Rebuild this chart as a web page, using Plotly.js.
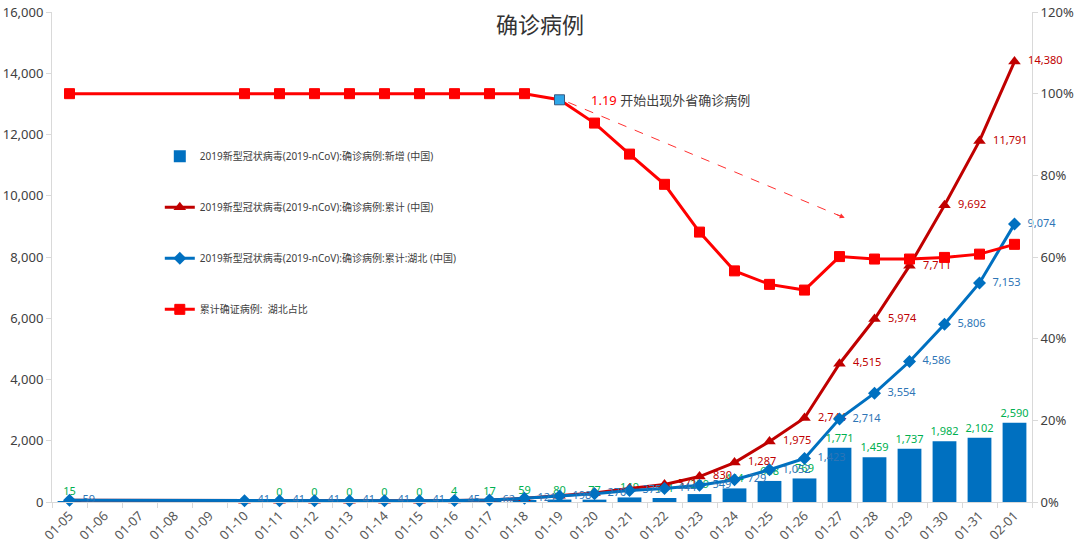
<!DOCTYPE html>
<html><head><meta charset="utf-8">
<script src="https://cdn.plot.ly/plotly-3.0.1.min.js"></script>
<style>html,body{margin:0;padding:0;background:#fff}#chart{width:1080px;height:553px}</style>
</head><body><div id="chart"></div>
<script>
const dates = ['01-05','01-06','01-07','01-08','01-09','01-10','01-11','01-12','01-13','01-14','01-15','01-16','01-17','01-18','01-19','01-20','01-21','01-22','01-23','01-24','01-25','01-26','01-27','01-28','01-29','01-30','01-31','02-01'];
const newCases = [15,null,null,null,null,null,0,0,0,0,0,4,17,59,80,77,149,131,259,444,688,769,1771,1459,1737,1982,2102,2590];
const cumChina = [59,null,null,null,null,41,41,41,41,41,41,45,62,121,201,291,440,571,830,1287,1975,2744,4515,5974,7711,9692,11791,14380];
const cumHubei = [59,null,null,null,null,41,41,41,41,41,41,45,62,121,198,270,375,444,549,729,1052,1423,2714,3554,4586,5806,7153,9074];
const hubeiShare = [1.0,null,null,null,null,1.0,1.0,1.0,1.0,1.0,1.0,1.0,1.0,1.0,0.985,0.928,0.852,0.778,0.661,0.566,0.533,0.519,0.601,0.595,0.595,0.599,0.607,0.631];
const names = ['2019新型冠状病毒(2019-nCoV):确诊病例:新增 (中国)','2019新型冠状病毒(2019-nCoV):确诊病例:累计 (中国)','2019新型冠状病毒(2019-nCoV):确诊病例:累计:湖北 (中国)','累计确证病例:  湖北占比'];
const titleText = '确诊病例';
const noteDate = '1.19';
const noteText = '开始出现外省确诊病例';

const fmt = v => v === null ? '' : v.toLocaleString('en-US');
const F = 'Noto Sans, Noto Sans CJK SC, sans-serif';

const traces = [
  {type:'bar', name:names[0], x:dates, y:newCases, marker:{color:'#0070C0'}, width:0.68,
   text:newCases.map(fmt), textposition:'outside', cliponaxis:false, constraintext:'none',
   textfont:{color:'#00B050', size:11, family:F}, outsidetextfont:{color:'#00B050', size:11, family:F}, legendgroup:'a'},
  {type:'scatter', mode:'lines+markers+text', name:names[1], x:dates, y:cumChina, connectgaps:true,
   line:{color:'#C00000', width:3}, marker:{symbol:'triangle-up', size:11, color:'#C00000'},
   text:cumChina.map((v,i)=> i>=17 ? '  '+fmt(v) : ''), textposition:'middle right', cliponaxis:false,
   textfont:{color:'#C00000', size:11, family:F}, legendgroup:'b'},
  {type:'scatter', mode:'lines+markers+text', name:names[2], x:dates, y:cumHubei, connectgaps:true,
   line:{color:'#0070C0', width:3}, marker:{symbol:'diamond', size:10, color:'#0070C0'},
   text:cumHubei.map(v=> v===null ? '' : '  '+fmt(v)), textposition:'middle right', cliponaxis:false,
   textfont:{color:'#2E75B6', size:11, family:F}, legendgroup:'c'},
  {type:'scatter', mode:'lines+markers', name:names[3], x:dates, y:hubeiShare, yaxis:'y2', connectgaps:true,
   line:{color:'#FF0000', width:3},
   marker:{symbol:'square', size:10, color:dates.map(d=> d==='01-19' ? '#2EA6E8' : '#FF0000'),
           line:{color:dates.map(d=> d==='01-19' ? '#3A5A80' : '#FF0000'), width:1}},
   cliponaxis:false, legendgroup:'d'}
];

const layout = {
  width:1080, height:553,
  margin:{l:52, r:48, t:12, b:51},
  paper_bgcolor:'#fff', plot_bgcolor:'#fff',
  font:{family:F, color:'#404040'},
  title:{text:titleText, x:0.5, xanchor:'center', y:0.955, yanchor:'middle', font:{size:22, color:'#333', family:F}},
  barmode:'overlay',
  showlegend:true,
  legend:{x:0.11, y:0.735, xanchor:'left', yanchor:'top', bgcolor:'rgba(0,0,0,0)',
          font:{size:10, color:'#404040', family:F}, tracegroupgap:32, itemwidth:30},
  xaxis:{type:'category', categoryorder:'array', categoryarray:dates, tickangle:-45,
         tickfont:{size:13, color:'#595959', family:F}, showline:true, linecolor:'#D9D9D9',
         ticks:'outside', tickson:'boundaries', tickcolor:'#D9D9D9', ticklen:5, showgrid:false, zeroline:false,
         range:[-0.5, 27.5]},
  yaxis:{range:[0,16000], dtick:2000, tickformat:',d', showgrid:false, zeroline:false,
         showline:true, linecolor:'#D9D9D9', ticks:'outside', tickcolor:'#D9D9D9', ticklen:5,
         tickfont:{size:13, color:'#404040', family:F}},
  yaxis2:{overlaying:'y', side:'right', range:[0,1.2], dtick:0.2, tickformat:'.0%', showgrid:false, zeroline:false,
          showline:true, linecolor:'#D9D9D9', ticks:'outside', tickcolor:'#D9D9D9', ticklen:5,
          tickfont:{size:13, color:'#404040', family:F}},
  shapes:[{type:'line', xref:'x', yref:'y', x0:14.25, y0:13050, x1:22.1, y1:9300,
           line:{color:'#FF3030', width:1, dash:'dash'}}],
  annotations:[
    {xref:'x', yref:'y', x:14.85, y:13120, xanchor:'left', yanchor:'middle', showarrow:false,
     text:'<span style="color:#FF0000">'+noteDate+'</span> '+noteText, font:{size:13, color:'#404040', family:F}},
    {xref:'x', yref:'y', x:22.15, y:9280, ax:-10, ay:-4, showarrow:true, arrowhead:2, arrowsize:1,
     arrowwidth:1, arrowcolor:'#FF3030', text:''}
  ]
};
Plotly.newPlot('chart', traces, layout, {displayModeBar:false, responsive:false});
</script></body></html>
